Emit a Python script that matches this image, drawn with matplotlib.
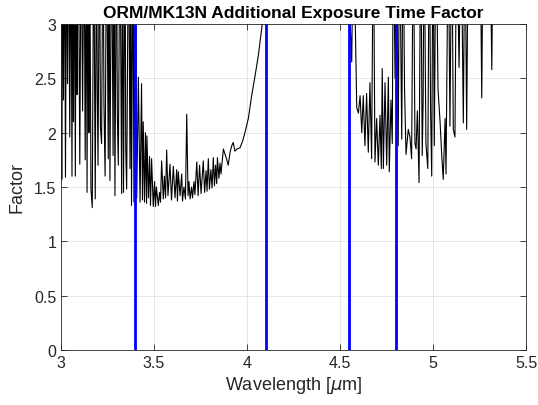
import matplotlib.pyplot as plt
from matplotlib.ticker import FuncFormatter

plt.rcParams['font.family'] = ['Liberation Sans', 'DejaVu Sans']

# values; 4.0 marks points above the y-limit (clipped)
T = 4.0
wavelength = [
    3.000, 3.004, 3.008, 3.013, 3.019, 3.024, 3.030, 3.035, 3.041, 3.047,
    3.053, 3.059, 3.063, 3.067, 3.072, 3.077, 3.082, 3.086, 3.093, 3.101,
    3.108, 3.116, 3.124, 3.130, 3.136, 3.140, 3.145, 3.150, 3.154, 3.161,
    3.168, 3.176, 3.184, 3.191, 3.195, 3.199, 3.207, 3.212, 3.218, 3.226,
    3.231, 3.237, 3.245, 3.254, 3.258, 3.263, 3.272, 3.280, 3.285, 3.290,
    3.298, 3.303, 3.308, 3.317, 3.326, 3.331, 3.336, 3.344, 3.348, 3.353,
    3.363, 3.371, 3.375, 3.379, 3.387, 3.392, 3.401, 3.407, 3.416, 3.425,
    3.433, 3.438, 3.442, 3.449, 3.454, 3.460, 3.462, 3.470, 3.476, 3.481,
    3.487, 3.496, 3.503, 3.508, 3.513, 3.523, 3.530, 3.535, 3.541, 3.550,
    3.556, 3.562, 3.568, 3.575, 3.586, 3.594, 3.604, 3.613, 3.622, 3.626,
    3.631, 3.640, 3.649, 3.653, 3.661, 3.669, 3.676, 3.683, 3.688, 3.694,
    3.702, 3.707, 3.715, 3.720, 3.730, 3.737, 3.745, 3.753, 3.765, 3.772,
    3.780, 3.785, 3.792, 3.798, 3.806, 3.812, 3.819, 3.825, 3.831, 3.837,
    3.841, 3.849, 3.855, 3.860, 3.873, 3.882, 3.890, 3.899, 3.909, 3.918,
    3.926, 3.935, 3.946, 3.962, 3.976, 3.989, 4.007, 4.025, 4.043, 4.061,
    4.074, 4.082, 4.091, 4.102,
    4.532, 4.563, 4.572, 4.590, 4.599, 4.608, 4.617, 4.625, 4.634, 4.643,
    4.652, 4.661, 4.670, 4.679, 4.688, 4.697, 4.706, 4.715, 4.722, 4.727,
    4.733, 4.742, 4.751, 4.760, 4.765, 4.774, 4.781, 4.787, 4.796, 4.804,
    4.813, 4.820, 4.832, 4.839, 4.847, 4.855, 4.867, 4.876, 4.885, 4.894,
    4.903, 4.909, 4.916, 4.925, 4.934, 4.942, 4.947, 4.952, 4.962, 4.972,
    4.980, 4.987, 4.993, 5.000, 5.007, 5.016, 5.027, 5.038, 5.047, 5.055,
    5.065, 5.070, 5.082, 5.091, 5.101, 5.109, 5.118, 5.127, 5.140, 5.151,
    5.163, 5.172, 5.181, 5.190, 5.253, 5.262, 5.270, 5.306, 5.316, 5.324,
]
factor = [
    T, 1.57, T, 2.30, T, 1.59, T, 2.45, T, 1.96,
    T, 1.60, T, 2.10, T, 1.60, T, 2.35, T, 1.71,
    T, 2.20, T, 1.75, T, 1.45, T, 2.00, T, 1.48,
    1.31, T, 1.39, T, 2.40, 1.70, T, 2.05, 1.90, T,
    2.25, 1.60, T, 1.76, T, 1.56, T, 1.79, T, 1.42,
    T, 2.15, 1.70, T, 1.44, T, 1.45, T, 1.85, 1.48,
    T, 1.67, T, 1.33, T, 1.36, T, 1.40, 2.51, 1.36,
    2.45, 1.38, 2.10, 1.36, 2.00, 1.35, 1.97, 1.40, 1.78, 1.33,
    1.76, 1.32, 1.55, 1.32, 1.50, 1.33, 1.45, 1.36, 1.74, 1.39,
    1.60, 1.40, 1.84, 1.42, 1.71, 1.38, 1.69, 1.40, 1.66, 1.37,
    1.64, 1.42, 1.62, 1.37, 1.50, 1.39, 2.17, 1.42, 1.55, 1.39,
    1.50, 1.40, 1.55, 1.43, 1.73, 1.42, 1.70, 1.44, 1.74, 1.45,
    1.65, 1.46, 1.76, 1.48, 1.66, 1.49, 1.77, 1.51, 1.70, 1.53,
    1.77, 1.58, 1.72, 1.62, 1.85, 1.80, 1.76, 1.70, 1.82, 1.88,
    1.91, 1.83, 1.85, 1.86, 1.92, 2.00, 2.13, 2.34, 2.52, 2.71,
    2.89, 3.00, 3.25, T,
    T, 2.65, T, 2.23, 2.18, 2.34, 2.00, 2.34, 1.88, 2.36,
    1.82, 2.46, 1.76, T, 1.73, 2.13, 1.70, 2.16, 1.67, 2.59,
    1.67, 2.46, 1.70, 2.51, 1.64, 2.30, 1.90, T, 2.50, T,
    1.88, T, 1.94, T, 2.40, 1.80, 2.03, 1.96, 1.76, T,
    1.90, 1.85, 2.20, 1.54, T, 1.79, 2.30, T, 1.90, 1.67,
    T, 2.20, 1.60, T, 1.88, T, 2.40, 2.10, 1.79, 1.57,
    2.13, 1.62, T, 2.06, T, 2.03, 1.96, T, 2.60, T,
    2.09, T, 2.03, T, T, 2.32, T, T, 2.58, T,
]
band_edges = [3.40, 4.10, 4.55, 4.80]

fig = plt.figure(figsize=(5.38, 4.06), dpi=100)
ax = fig.add_axes([0.1134, 0.1355, 0.8643, 0.803])

ax.plot(wavelength, factor, color='black', linewidth=0.8)
for b in band_edges:
    ax.axvline(b, color='#0000ff', linewidth=2)

ax.set_xlim(3, 5.5)
ax.set_ylim(0, 3)
ax.set_xticks([3, 3.5, 4, 4.5, 5, 5.5])
ax.set_yticks([0, 0.5, 1, 1.5, 2, 2.5, 3])
fmt = FuncFormatter(lambda v, p: ('%g' % v))
ax.xaxis.set_major_formatter(fmt)
ax.yaxis.set_major_formatter(fmt)

ax.grid(True, color='#262626', alpha=0.12, linewidth=0.6)
ax.tick_params(direction='in', length=4, width=0.6, colors='#262626',
               labelsize=11.5, top=True, right=True, labeltop=False, labelright=False)
for s in ax.spines.values():
    s.set_color('#262626')
    s.set_linewidth(0.6)

ax.set_title('ORM/MK13N Additional Exposure Time Factor', fontsize=12.5,
             fontweight='bold', pad=5)
ax.set_xlabel(r'Wavelength [$\mu$m]', fontsize=13, color='#262626', labelpad=3)
ax.set_ylabel('Factor', fontsize=13, color='#262626', labelpad=6)

plt.savefig('out.png', dpi=100)
